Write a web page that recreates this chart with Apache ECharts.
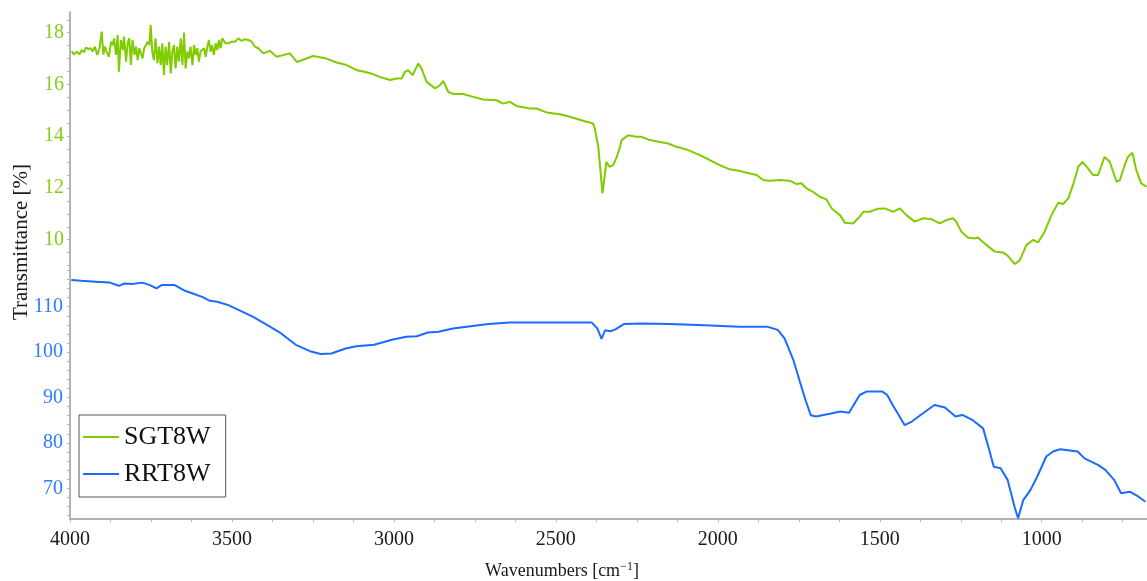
<!DOCTYPE html>
<html><head><meta charset="utf-8">
<script src="https://cdn.jsdelivr.net/npm/echarts@6/dist/echarts.min.js"></script>
<style>html,body{margin:0;padding:0;background:#fff}#c{width:1147px;height:581px}</style>
</head><body><div id="c"></div>
<script>
const xTickLabels = [4000, 3500, 3000, 2500, 2000, 1500, 1000];
const greenTickLabels = [10, 12, 14, 16, 18];
const blueTickLabels = [70, 80, 90, 100, 110];
const seriesNames = ['SGT8W', 'RRT8W'];

const sgtWavenumbers = [3995,3988,3979,3971,3964,3957,3951,3943,3936,3930,3923,3916,3909,3902,3897,3892,3887,3880,3873,3868,3864,3858,3853,3849,3843,3837,3833,3827,3822,3817,3812,3807,3801,3796,3791,3786,3781,3776,3771,3765,3760,3755,3751,3746,3741,3736,3730,3725,3720,3715,3710,3705,3700,3694,3689,3684,3679,3674,3669,3664,3658,3653,3648,3643,3638,3633,3628,3622,3617,3612,3607,3602,3597,3592,3586,3581,3576,3571,3566,3561,3556,3550,3545,3540,3535,3530,3525,3520,3511,3501,3491,3480,3470,3460,3450,3439,3429,3419,3403,3383,3362,3321,3300,3249,3208,3177,3146,3115,3095,3069,3043,3012,2992,2976,2966,2956,2942,2925,2915,2899,2873,2858,2848,2832,2816,2786,2755,2724,2683,2663,2642,2621,2580,2560,2529,2488,2457,2416,2385,2380,2369,2356,2344,2335,2323,2318,2313,2302,2297,2277,2251,2236,2210,2179,2153,2128,2097,2056,2025,1994,1963,1932,1911,1880,1860,1840,1809,1778,1757,1742,1726,1706,1685,1665,1648,1623,1608,1582,1562,1551,1531,1505,1485,1459,1438,1418,1392,1366,1340,1315,1294,1274,1264,1248,1228,1207,1197,1171,1145,1120,1104,1083,1068,1047,1027,1011,991,970,949,934,918,902,887,874,857,842,826,806,790,769,759,744,734,720,708,693,676];
const sgtValues = [17.29,17.16,17.27,17.16,17.33,17.24,17.42,17.37,17.40,17.27,17.46,17.14,17.40,18.04,17.16,17.46,17.27,17.07,17.65,17.52,17.78,17.14,17.91,16.49,17.72,17.33,17.85,16.88,17.59,17.78,16.75,17.72,17.14,17.46,16.94,17.40,17.20,17.01,17.40,17.46,17.65,17.52,18.30,17.27,16.94,17.78,16.82,17.46,16.75,17.59,16.37,17.46,16.75,17.65,16.43,17.27,17.52,16.62,17.46,16.88,17.78,16.75,18.01,16.62,17.27,17.01,17.46,16.75,17.52,17.14,17.40,16.88,17.27,17.20,17.40,17.07,17.46,17.72,17.27,17.52,17.14,17.59,17.33,17.72,17.40,17.78,17.85,17.59,17.59,17.65,17.65,17.78,17.68,17.75,17.72,17.65,17.46,17.40,17.2,17.3,17.07,17.2,16.87,17.1,17.0,16.85,16.75,16.55,16.5,16.42,16.29,16.17,16.23,16.23,16.49,16.55,16.36,16.81,16.62,16.1,15.85,15.97,16.14,15.71,15.63,15.63,15.52,15.42,15.39,15.26,15.33,15.17,15.07,15.07,14.92,14.85,14.75,14.6,14.49,14.3,13.59,11.79,13.01,12.82,12.88,12.82,13.17,13.59,13.85,14.04,13.98,13.98,13.85,13.78,13.72,13.59,13.49,13.27,13.08,12.88,12.72,12.66,12.59,12.5,12.31,12.28,12.31,12.28,12.15,12.18,11.98,11.85,11.66,11.56,11.21,10.95,10.66,10.63,10.89,11.08,11.08,11.2,11.21,11.08,11.21,10.95,10.7,10.83,10.79,10.63,10.76,10.83,10.7,10.31,10.09,10.05,10.09,9.8,9.54,9.51,9.37,9.06,9.2,9.8,9.99,9.9,10.31,10.95,11.43,11.38,11.6,12.18,12.82,13.01,12.76,12.5,12.5,13.2,13.01,12.24,12.3,12.88,13.2,13.36,12.69,12.18,12.05];

const rrtWavenumbers = [3996,3965,3921,3877,3849,3832,3808,3777,3755,3733,3716,3678,3645,3623,3590,3568,3546,3513,3480,3436,3392,3348,3303,3259,3226,3193,3149,3116,3061,3006,2962,2929,2895,2862,2818,2763,2708,2642,2543,2466,2389,2372,2359,2348,2332,2316,2289,2235,2149,2041,1934,1848,1815,1794,1767,1745,1729,1713,1697,1654,1622,1595,1562,1541,1492,1477,1460,1423,1401,1374,1331,1299,1266,1245,1213,1181,1165,1148,1127,1105,1084,1073,1057,1035,1014,986,965,943,889,868,825,803,776,755,728,701,680];
const rrtValues = [115.9,115.7,115.5,115.3,114.6,115.1,115.0,115.3,114.8,114.05,114.8,114.8,113.5,112.95,112.1,111.3,111.1,110.4,109.3,107.8,106.0,104.1,101.6,100.2,99.6,99.7,100.8,101.3,101.6,102.7,103.4,103.5,104.3,104.5,105.2,105.7,106.2,106.5,106.5,106.5,106.5,105.2,102.9,104.8,104.6,105.0,106.2,106.3,106.2,105.9,105.6,105.6,104.9,103.0,98.3,93.1,89.4,86.1,85.8,86.4,86.9,86.65,90.55,91.3,91.3,90.55,88.35,83.9,84.7,86.15,88.35,87.8,85.8,86.15,85.0,83.2,79.2,74.75,74.4,71.8,65.95,63.4,67.4,69.6,72.55,77.0,78.1,78.6,78.1,76.6,75.1,74.0,71.8,68.9,69.25,68.15,67.05];

const GREEN = '#7fcc00', GREEN_LBL = '#86cc1a';
const BLUE = '#1a6bff', BLUE_LBL = '#2f7cff';
const FONT = '"Liberation Serif", "Times New Roman", serif';
const AXIS = '#b3b3b3';

function range(a, b, step) { const r = []; for (let v = a; step > 0 ? v <= b + 1e-9 : v >= b - 1e-9; v += step) r.push(+v.toFixed(3)); return r; }
const xTicks = range(4000, 750, -125);
const greenTicks = range(9, 18.5, 0.5);
const blueTicks = range(64, 118, 2);

const zip = (xs, ys) => xs.map((x, i) => [x, ys[i]]);

const chart = echarts.init(document.getElementById('c'), null, {renderer: 'canvas'});
const xBase = {type: 'value', inverse: true, min: 675, max: 4000, splitLine: {show: false}};
chart.setOption({
  animation: false,
  backgroundColor: '#fff',
  grid: [
    {left: 70, right: 0, top: 12, height: 258},
    {left: 70, right: 0, top: 270, bottom: 62}
  ],
  xAxis: [
    Object.assign({gridIndex: 0, show: false}, xBase),
    Object.assign({gridIndex: 1,
      axisLine: {show: true, onZero: false, lineStyle: {color: AXIS, width: 2}},
      axisTick: {show: true, length: 3, customValues: xTicks, lineStyle: {color: AXIS}},
      axisLabel: {customValues: xTickLabels, formatter: v => String(v), color: '#1a1a1a', fontSize: 20, fontFamily: FONT, margin: 11}
    }, xBase)
  ],
  yAxis: [
    {gridIndex: 0, type: 'value', min: 8.83, max: 18.8, splitLine: {show: false},
      axisLine: {show: true, onZero: false, lineStyle: {color: AXIS, width: 2}},
      axisTick: {show: true, length: 3, customValues: greenTicks, lineStyle: {color: AXIS}},
      axisLabel: {customValues: greenTickLabels, color: GREEN_LBL, fontSize: 20, fontFamily: FONT, margin: 6}},
    {gridIndex: 1, type: 'value', min: 63.24, max: 118.08, splitLine: {show: false},
      axisLine: {show: true, onZero: false, lineStyle: {color: AXIS, width: 2}},
      axisTick: {show: true, length: 3, customValues: blueTicks, lineStyle: {color: AXIS}},
      axisLabel: {customValues: blueTickLabels, color: BLUE_LBL, fontSize: 20, fontFamily: FONT, margin: 7}}
  ],
  legend: {
    data: seriesNames,
    orient: 'vertical', left: 79, top: 415,
    icon: 'rect', itemWidth: 36, itemHeight: 2, itemGap: 7, itemTextGap: 7,
    padding: [7, 15, 8, 4],
    backgroundColor: '#fff', borderColor: '#555', borderWidth: 1,
    textStyle: {fontSize: 26, fontFamily: FONT, color: '#111', lineHeight: 30}
  },
  graphic: [{
    type: 'text', x: 21, y: 242, rotation: Math.PI / 2,
    style: {text: 'Transmittance [%]', font: '21px ' + FONT, fill: '#1a1a1a', align: 'center', verticalAlign: 'middle'}
  }, {
    type: 'text', x: 562, y: 571,
    style: {
      text: '{a|Wavenumbers [cm}{s|−1}{a|]}', align: 'center', verticalAlign: 'middle',
      rich: {
        a: {fontSize: 18, fontFamily: FONT, fill: '#1a1a1a'},
        s: {fontSize: 12, fontFamily: FONT, fill: '#1a1a1a', padding: [0, 0, 8, 0]}
      }
    }
  }],
  series: [
    {name: seriesNames[0], type: 'line', xAxisIndex: 0, yAxisIndex: 0, data: zip(sgtWavenumbers, sgtValues),
      symbol: 'none', color: GREEN, lineStyle: {color: GREEN, width: 2}, clip: false},
    {name: seriesNames[1], type: 'line', xAxisIndex: 1, yAxisIndex: 1, data: zip(rrtWavenumbers, rrtValues),
      symbol: 'none', color: BLUE, lineStyle: {color: BLUE, width: 2}, clip: false}
  ]
});
</script></body></html>
